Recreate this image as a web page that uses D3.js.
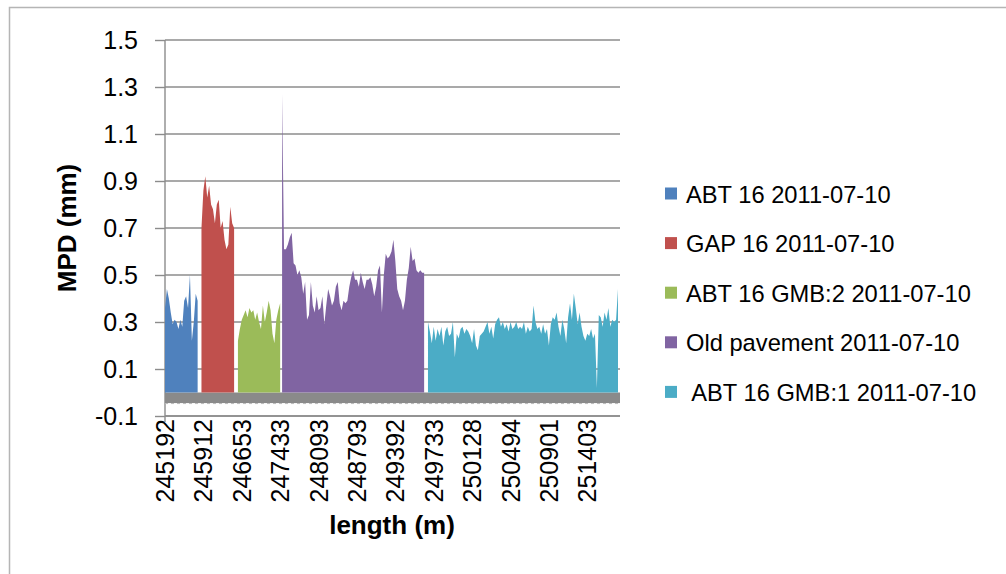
<!DOCTYPE html>
<html>
<head>
<meta charset="utf-8">
<script src="https://cdn.jsdelivr.net/npm/d3@7"></script>
<style>
  html, body { margin: 0; padding: 0; background: #fff; }
  svg { display: block; font-family: "Liberation Sans", Arial, sans-serif; }
</style>
</head>
<body>
<svg id="chart" width="1006" height="574"></svg>
<script>
// Category axis: one measurement per index, labelled every 20 categories
const categoryCount = 237;
const tickStep = 20;
const tickLabels = ["245192", "245912", "246653", "247433", "248093", "248793",
                    "249392", "249733", "250128", "250494", "250901", "251403"];
const yTicks = [-0.1, 0.1, 0.3, 0.5, 0.7, 0.9, 1.1, 1.3, 1.5];
const floorLevel = -0.045;

// MPD (mm) per section, each starting at its own category index
const abt16Start = 0;
const abt16 = [0.36, 0.44, 0.40, 0.34, 0.29, 0.31, 0.30, 0.27, 0.31, 0.28,
               0.39, 0.41, 0.36, 0.50, 0.22, 0.30, 0.42, 0.39];

const gap16Start = 19;
const gap16 = [0.70, 0.86, 0.92, 0.83, 0.88, 0.80, 0.78, 0.72, 0.80, 0.82,
               0.70, 0.73, 0.65, 0.61, 0.63, 0.79, 0.72, 0.70];

const gmb2Start = 38;
const gmb2 = [0.22, 0.27, 0.31, 0.33, 0.35, 0.32, 0.36, 0.34, 0.35, 0.31,
              0.34, 0.30, 0.27, 0.37, 0.30, 0.34, 0.39, 0.35, 0.25, 0.21,
              0.31, 0.35, 0.38];

const oldPavementStart = 61;
const oldPavement = [1.27,
  0.61, 0.61, 0.63, 0.66, 0.68, 0.55, 0.54, 0.50, 0.52, 0.49,
  0.42, 0.47, 0.31, 0.33, 0.47, 0.37, 0.34, 0.41, 0.35, 0.36,
  0.41, 0.29, 0.37, 0.44, 0.41, 0.37, 0.39, 0.45, 0.47, 0.38,
  0.35, 0.39, 0.38, 0.39, 0.45, 0.49, 0.52, 0.48, 0.48, 0.45,
  0.51, 0.47, 0.44, 0.48, 0.48, 0.49, 0.46, 0.41, 0.45, 0.52,
  0.54, 0.34, 0.50, 0.59, 0.57, 0.58, 0.60, 0.65, 0.56, 0.44,
  0.41, 0.39, 0.35, 0.39, 0.48, 0.53, 0.62, 0.56, 0.57, 0.52,
  0.51, 0.52, 0.51, 0.51];

const gmb1Start = 137;
const gmb1 = [0.30, 0.26, 0.21, 0.28, 0.22, 0.27, 0.24, 0.28, 0.20, 0.26,
              0.28, 0.24, 0.25, 0.30, 0.15, 0.25, 0.23, 0.27, 0.28, 0.25,
              0.27, 0.26, 0.24, 0.21, 0.27, 0.20, 0.18, 0.24, 0.25, 0.26,
              0.28, 0.30, 0.25, 0.28, 0.23, 0.29, 0.31, 0.32, 0.28, 0.30,
              0.27, 0.29, 0.26, 0.30, 0.27, 0.28, 0.30, 0.27, 0.28, 0.27,
              0.30, 0.25, 0.28, 0.26, 0.27, 0.37, 0.30, 0.27, 0.28, 0.25,
              0.29, 0.25, 0.27, 0.20, 0.29, 0.32, 0.31, 0.34, 0.28, 0.24,
              0.31, 0.27, 0.21, 0.32, 0.38, 0.31, 0.42, 0.36, 0.29, 0.34,
              0.28, 0.24, 0.22, 0.25, 0.24, 0.27, 0.23, 0.25, 0.02, 0.33,
              0.32, 0.28, 0.34, 0.31, 0.36, 0.28, 0.31, 0.30, 0.31, 0.44];

const seriesNames = ["ABT 16 2011-07-10", "GAP 16 2011-07-10", "ABT 16 GMB:2 2011-07-10",
                     "Old pavement 2011-07-10", " ABT 16 GMB:1 2011-07-10"];
const seriesColors = ["#4F81BD", "#C0504D", "#9BBB59", "#8064A2", "#4BACC6"];

const series = [
  { start: abt16Start, values: abt16 },
  { start: gap16Start, values: gap16 },
  { start: gmb2Start, values: gmb2 },
  { start: oldPavementStart, values: oldPavement },
  { start: gmb1Start, values: gmb1 }
];

const svg = d3.select("#chart");
const plot = { left: 165, right: 618, top: 40, bottom: 416 };

const x = d3.scaleLinear().domain([0, categoryCount - 1]).range([plot.left, plot.right]);
const y = d3.scaleLinear().domain([-0.1, 1.5]).range([plot.bottom, plot.top]);

const axisColor = "#8c8c8c";

// outer frame
svg.append("path")
  .attr("d", "M9.5,574 V7.5 H1006")
  .attr("fill", "none").attr("stroke", "#b5b5b5").attr("stroke-width", 1.5);

// horizontal gridlines
svg.append("g").selectAll("line").data(yTicks).join("line")
  .attr("x1", plot.left).attr("x2", plot.right + 2)
  .attr("y1", d => y(d)).attr("y2", d => y(d))
  .attr("stroke", axisColor).attr("stroke-width", 1.4);

// y axis with outward ticks; plain hyphen for negative values
const yAxis = svg.append("g")
  .attr("transform", `translate(${plot.left},0)`)
  .call(d3.axisLeft(y).tickValues(yTicks).tickSize(10).tickPadding(17)
        .tickFormat(d => d.toFixed(1)));
yAxis.select(".domain").attr("stroke", axisColor).attr("stroke-width", 1.4)
  .attr("d", `M0,${plot.top}V${plot.bottom + 6}`);
yAxis.selectAll(".tick line").attr("stroke", axisColor).attr("stroke-width", 1.4);
yAxis.selectAll(".tick text")
  .attr("fill", "#000").style("font-size", "25px");

// grey floor band below the zero line
svg.append("rect")
  .attr("x", x(0)).attr("width", x(categoryCount - 1) - x(0) + 2)
  .attr("y", y(0)).attr("height", y(floorLevel) - y(0))
  .attr("fill", "#8a8a8a");
svg.append("line")
  .attr("x1", x(0)).attr("x2", x(categoryCount - 1) + 2)
  .attr("y1", y(floorLevel) + 0.5).attr("y2", y(floorLevel) + 0.5)
  .attr("stroke", "#b8b8b8").attr("stroke-dasharray", "3,3");

// area series
const area = d3.area()
  .x(d => x(d.i))
  .y0(y(0))
  .y1(d => y(d.v));

svg.append("g").selectAll("path").data(series).join("path")
  .attr("d", s => area(s.values.map((v, k) => ({ i: s.start + k, v }))))
  .attr("fill", (s, k) => seriesColors[k]);

// x axis line at the bottom of the value range
svg.append("line")
  .attr("x1", plot.left).attr("x2", plot.right + 2)
  .attr("y1", y(-0.1)).attr("y2", y(-0.1))
  .attr("stroke", axisColor).attr("stroke-width", 1.4);

// category labels, rotated
svg.append("g").selectAll("text").data(tickLabels).join("text")
  .attr("transform", (d, k) => `translate(${x(k * tickStep)},${plot.bottom + 3}) rotate(-90)`)
  .attr("text-anchor", "end")
  .attr("dy", "0.36em")
  .attr("fill", "#000")
  .style("font-size", "25px")
  .text(d => d);

// axis titles
svg.append("text")
  .attr("transform", "translate(67,228) rotate(-90)")
  .attr("text-anchor", "middle").attr("dy", "0.36em")
  .style("font-size", "26px").style("font-weight", "bold")
  .text("MPD (mm)");

svg.append("text")
  .attr("x", 392).attr("y", 525)
  .attr("text-anchor", "middle").attr("dy", "0.36em")
  .style("font-size", "26px").style("font-weight", "bold")
  .text("length (m)");

// legend
const legend = svg.append("g").selectAll("g").data(seriesNames).join("g")
  .attr("transform", (d, k) => `translate(665,${202.5 + k * 49.6})`);
legend.append("rect")
  .attr("x", 0).attr("y", -15).attr("width", 12).attr("height", 12)
  .attr("fill", (d, k) => seriesColors[k]);
legend.append("text")
  .attr("x", 21).attr("y", 0)
  .attr("xml:space", "preserve")
  .style("white-space", "pre")
  .style("font-size", "23.7px")
  .attr("fill", "#000")
  .text(d => d);
</script>
</body>
</html>
